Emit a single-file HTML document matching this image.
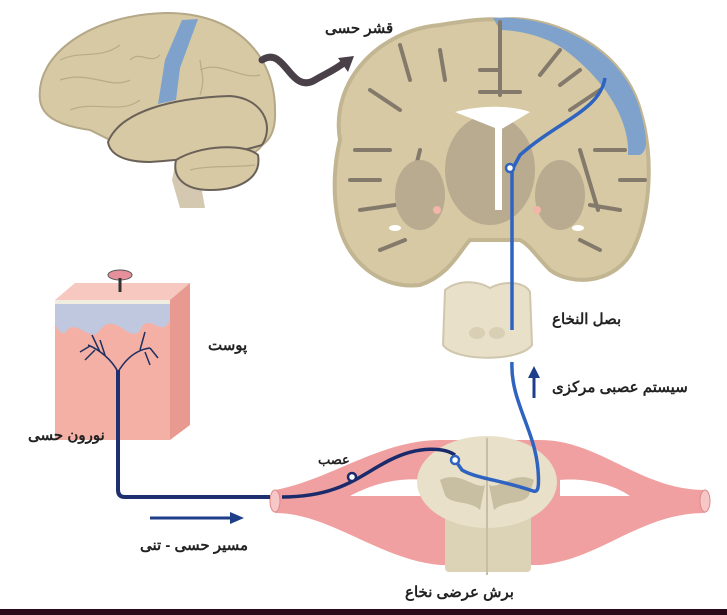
<!DOCTYPE html>
<html><head><meta charset="utf-8"><style>
html,body{margin:0;padding:0;background:#fff;}
svg{display:block}
text{font-family:"Liberation Sans","Noto Sans CJK SC",sans-serif;fill:#222;font-weight:bold}
</style></head><body>
<svg width="727" height="615" viewBox="0 0 727 615" xmlns="http://www.w3.org/2000/svg">
<rect width="727" height="615" fill="#fff"/>
<!-- side brain -->
<path d="M175,165 L172,180 L180,208 L205,208 L200,180Z" fill="#d4c8b0"/>
<path d="M40,100 C35,55 90,15 165,13 C235,12 275,55 275,110 C276,130 270,140 262,145 C258,152 250,155 245,152 L150,160 C130,150 110,140 90,130 C55,125 42,115 40,100Z" fill="#d6c9a4" stroke="#b5a887" stroke-width="2"/>
<path d="M108,142 C120,112 170,98 230,96 C262,98 275,125 262,145 C230,155 180,160 150,162 C125,162 110,155 108,142Z" fill="#d6c9a4" stroke="#6a6258" stroke-width="2"/>
<path d="M176,160 C200,145 245,143 258,155 C262,178 240,190 210,190 C185,190 172,178 176,160Z" fill="#d6c9a4" stroke="#6a6258" stroke-width="2"/>
<path d="M182,20 L198,19 L180,68 L176,100 L158,104 L165,60Z" fill="#7ea2cc"/>
<path d="M60,80 C90,70 110,90 130,80 M70,110 C95,100 120,115 140,100 M200,70 C220,60 240,80 260,75 M200,60 C202,75 205,80 200,95 M60,60 C80,50 100,60 120,45 M130,60 C140,50 150,65 160,55 M190,170 C210,165 230,168 255,165" stroke="#b8ab88" fill="none" stroke-width="1.2"/>
<!-- arrow -->
<path d="M262,60 C285,45 290,95 315,80 C325,74 335,70 345,62" stroke="#4a4048" stroke-width="7" fill="none" stroke-linecap="round"/>
<polygon points="354,56 338,58 348,72" fill="#4a4048"/>
<text x="325" y="33" font-size="15">قشر حسی</text>
<!-- coronal brain -->
<path d="M340,140 C330,80 380,30 440,25 C470,20 490,18 500,20 C540,14 620,40 640,110 C655,160 650,220 630,255 C610,285 570,285 550,270 C535,255 530,245 520,240 L470,240 C460,250 450,275 420,285 C380,290 345,260 338,220 C332,190 335,160 340,140Z" fill="#d6c9a4" stroke="#c2b592" stroke-width="4"/>
<path d="M493,18 C540,14 620,40 640,110 C648,140 648,150 640,155 L628,155 C630,120 605,80 565,50 C545,35 515,30 500,30Z" fill="#7ea2cc"/>
<path d="M500,22 L500,95 M480,92 L520,92 M480,70 L500,70 M400,45 L410,80 M370,90 L400,110 M355,150 L390,150 M360,210 L395,205 M380,250 L405,240 M560,50 L540,75 M600,90 L570,110 M625,150 L595,150 M620,210 L590,205 M600,250 L580,240 M420,150 L405,210 M580,150 L598,210 M350,180 L380,180 M620,180 L645,180 M440,50 L445,80 M560,85 L580,70" stroke="#847a6c" stroke-width="4" fill="none" stroke-linecap="round"/>
<ellipse cx="490" cy="170" rx="45" ry="55" fill="#b8ab90"/>
<path d="M455,112 C480,105 510,105 530,112 L500,130Z" fill="#fff"/>
<rect x="495" y="120" width="7" height="90" fill="#fff"/>
<ellipse cx="420" cy="195" rx="25" ry="35" fill="#b8ab90"/>
<ellipse cx="560" cy="195" rx="25" ry="35" fill="#b8ab90"/>
<ellipse cx="395" cy="228" rx="6" ry="3" fill="#fff"/><ellipse cx="578" cy="228" rx="6" ry="3" fill="#fff"/>
<circle cx="437" cy="210" r="4" fill="#f2b5a8"/><circle cx="537" cy="210" r="4" fill="#f2b5a8"/>
<!-- medulla -->
<path d="M445,290 C460,278 480,282 490,288 C505,280 525,282 530,292 L532,345 C520,362 455,362 443,345Z" fill="#e8e0c8" stroke="#d0c6ad" stroke-width="2"/>
<ellipse cx="477" cy="333" rx="8" ry="6" fill="#d8cfb5"/><ellipse cx="497" cy="333" rx="8" ry="6" fill="#d8cfb5"/>
<text x="552" y="324" font-size="15">بصل النخاع</text>
<text x="552" y="392" font-size="15">سیستم عصبی مرکزی</text>
<line x1="534" y1="398" x2="534" y2="375" stroke="#1f3e8a" stroke-width="3"/>
<polygon points="534,366 528,378 540,378" fill="#1f3e8a"/>
<path d="M605,78 C600,110 560,120 520,155 L512,170 C512,185 512,200 512,330" stroke="#2f63c0" stroke-width="3.5" fill="none"/>
<circle cx="510" cy="168" r="4" fill="#fff" stroke="#2f63c0" stroke-width="2.5"/>
<!-- skin -->
<path d="M55,300 L75,283 L190,283 L170,300Z" fill="#f6c8bf"/>
<path d="M170,300 L190,283 L190,425 L170,440Z" fill="#e89a90"/>
<rect x="55" y="300" width="115" height="140" fill="#f5b0a6"/>
<path d="M55,300 L170,300 L170,320 C160,340 150,310 140,330 C130,345 115,310 100,330 C90,345 75,315 65,333 C60,335 55,325 55,320Z" fill="#c0c8e0"/>
<rect x="55" y="300" width="115" height="4" fill="#f0ece0"/>
<path d="M118,372 C112,360 100,350 88,345 M118,372 C125,360 135,350 150,348 M100,352 L92,335 M90,346 L80,352 M95,350 L85,360 M140,350 L145,332 M150,348 L158,358 M145,352 L150,365 M105,355 L100,340" stroke="#1f3060" stroke-width="1.5" fill="none"/>
<ellipse cx="120" cy="275" rx="12" ry="5" fill="#e5909a" stroke="#555" stroke-width="1"/>
<line x1="120" y1="278" x2="120" y2="292" stroke="#333" stroke-width="3"/>
<text x="208" y="350" font-size="15">پوست</text>
<text x="28" y="440" font-size="15">نورون حسی</text>
<!-- nerve pink -->
<path d="M275,490 C330,480 380,440 440,440 L540,440 C600,440 640,490 705,490 L705,513 C640,513 600,560 540,565 L440,565 C380,560 330,513 275,513Z" fill="#f0a0a0"/>
<path d="M350,496 C380,480 405,478 425,480 L425,496Z M560,480 C580,478 610,482 630,496 L560,496Z" fill="#fff"/>
<ellipse cx="275" cy="501" rx="5" ry="11" fill="#f7c6c6" stroke="#d88" stroke-width="1"/>
<ellipse cx="705" cy="501" rx="5" ry="11" fill="#f7c6c6" stroke="#d88" stroke-width="1"/>
<!-- spinal cord -->
<rect x="445" y="500" width="86" height="72" rx="4" fill="#dcd2b5"/>
<ellipse cx="487" cy="482" rx="70" ry="46" fill="#e8e0c8"/>
<line x1="487" y1="438" x2="487" y2="575" stroke="#c8bea6" stroke-width="2"/>
<path d="M440,480 C460,470 475,490 485,485 L480,510 C470,500 450,505 445,495Z" fill="#c8bea2"/>
<path d="M534,480 C514,470 499,490 489,485 L494,510 C504,500 524,505 529,495Z" fill="#c8bea2"/>
<text x="405" y="597" font-size="15">برش عرضی نخاع</text>
<!-- blue lower path -->
<path d="M512,362 C510,400 535,430 538,470 C540,495 536,492 530,490 C500,480 475,478 462,470 L455,460" stroke="#2f63c0" stroke-width="3.5" fill="none"/>
<!-- dark neuron -->
<path d="M118,370 L118,490 Q118,497 125,497 L270,497" stroke="#1f3070" stroke-width="4" fill="none"/>
<path d="M282,497 C340,497 360,475 390,460 C420,445 445,448 455,455" stroke="#1a2a6a" stroke-width="3.5" fill="none"/>
<circle cx="352" cy="477" r="4" fill="#fff" stroke="#1a2a6a" stroke-width="2.5"/>
<circle cx="455" cy="460" r="4" fill="#fff" stroke="#2f63c0" stroke-width="2.5"/>
<text x="318" y="464" font-size="13">عصب</text>
<line x1="150" y1="518" x2="232" y2="518" stroke="#1f3e8a" stroke-width="3"/>
<polygon points="244,518 230,512 230,524" fill="#1f3e8a"/>
<text x="140" y="550" font-size="15">مسیر حسی - تنی</text>
<rect x="0" y="609" width="727" height="6" fill="#2a0a18"/>
</svg>
</body></html>
